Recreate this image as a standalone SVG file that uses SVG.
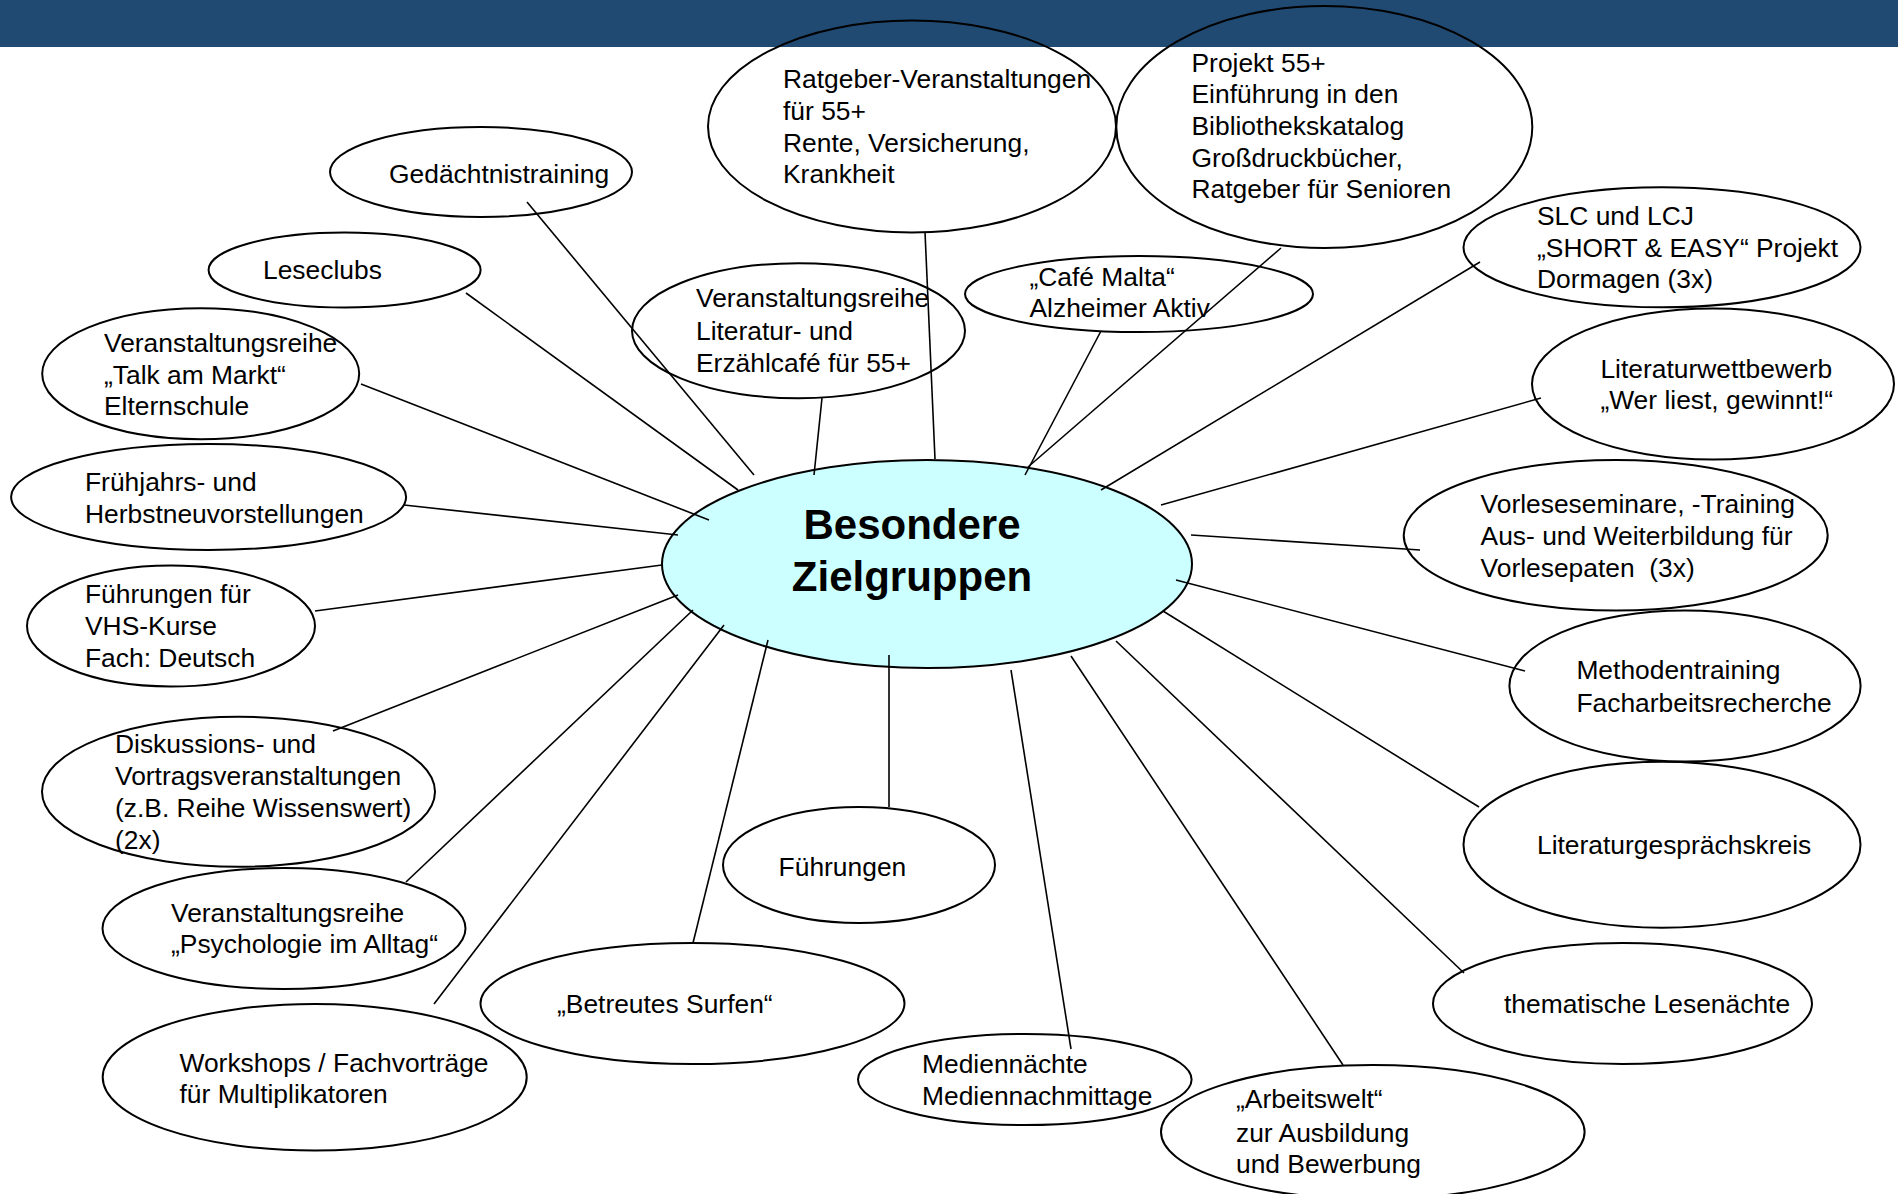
<svg xmlns="http://www.w3.org/2000/svg" width="1898" height="1194" viewBox="0 0 1898 1194">
<style>
.n{fill:none;stroke:#000;stroke-width:2}
.c{fill:#ccffff;stroke:#000;stroke-width:2}
.t{font-family:"Liberation Sans",Arial,sans-serif;font-size:26.4px;fill:#000}
.b{font-family:"Liberation Sans",Arial,sans-serif;font-size:42px;font-weight:bold;fill:#000;text-anchor:middle}
#connectors line{stroke:#000;stroke-width:1.6}
</style>
<rect x="0" y="0" width="1898" height="47" fill="#204a72"/>
<g id="center">
<ellipse class="c" cx="927" cy="564" rx="265" ry="104"/>
<text class="b" x="912" y="539">Besondere</text>
<text class="b" x="912" y="591">Zielgruppen</text>
</g>
<g id="connectors">
<line x1="527" y1="202" x2="754" y2="475"/>
<line x1="466" y1="293" x2="738" y2="490"/>
<line x1="361" y1="384" x2="709" y2="520"/>
<line x1="404" y1="505" x2="678" y2="535"/>
<line x1="315" y1="611" x2="662" y2="565"/>
<line x1="333" y1="731" x2="678" y2="595"/>
<line x1="406" y1="882" x2="693" y2="610"/>
<line x1="434" y1="1004" x2="724" y2="625"/>
<line x1="693" y1="943" x2="768" y2="640"/>
<line x1="889" y1="807" x2="889" y2="655"/>
<line x1="1071" y1="1049" x2="1011" y2="670"/>
<line x1="1343" y1="1065" x2="1071" y2="656"/>
<line x1="1464" y1="973" x2="1116" y2="641"/>
<line x1="1479" y1="807" x2="1163" y2="611"/>
<line x1="1525" y1="671" x2="1176" y2="580"/>
<line x1="1420" y1="550" x2="1191" y2="535"/>
<line x1="1541" y1="398" x2="1161" y2="505"/>
<line x1="1480" y1="262" x2="1101" y2="490"/>
<line x1="1281" y1="248" x2="1028" y2="467"/>
<line x1="1101" y1="331" x2="1025" y2="475"/>
<line x1="925" y1="232" x2="935" y2="459"/>
<line x1="822" y1="398" x2="814" y2="475"/>
</g>
<g id="n1"><ellipse class="n" cx="481" cy="172" rx="151" ry="45"/><text class="t" x="389" y="183">Gedächtnistraining</text></g>
<g id="n2"><ellipse class="n" cx="344.6" cy="270" rx="136" ry="37.5"/><text class="t" x="263" y="279">Leseclubs</text></g>
<g id="n3"><ellipse class="n" cx="200.7" cy="373.7" rx="158.5" ry="65.5"/><text class="t"><tspan x="104" y="352">Veranstaltungsreihe</tspan><tspan x="104" y="383.5">„Talk am Markt“</tspan><tspan x="104" y="415">Elternschule</tspan></text></g>
<g id="n4"><ellipse class="n" cx="208.6" cy="497" rx="197.5" ry="53"/><text class="t"><tspan x="85" y="491">Frühjahrs- und</tspan><tspan x="85" y="522.5">Herbstneuvorstellungen</tspan></text></g>
<g id="n5"><ellipse class="n" cx="171" cy="626" rx="144" ry="60.5"/><text class="t"><tspan x="85" y="603">Führungen für</tspan><tspan x="85" y="635">VHS-Kurse</tspan><tspan x="85" y="667">Fach: Deutsch</tspan></text></g>
<g id="n6"><ellipse class="n" cx="238.5" cy="791.7" rx="196.5" ry="75"/><text class="t"><tspan x="115" y="753">Diskussions- und</tspan><tspan x="115" y="785">Vortragsveranstaltungen</tspan><tspan x="115" y="817">(z.B. Reihe Wissenswert)</tspan><tspan x="115" y="848.5">(2x)</tspan></text></g>
<g id="n7"><ellipse class="n" cx="284" cy="928.5" rx="181.5" ry="60.5"/><text class="t"><tspan x="171" y="921.7">Veranstaltungsreihe</tspan><tspan x="171" y="953.3">„Psychologie im Alltag“</tspan></text></g>
<g id="n8"><ellipse class="n" cx="314.7" cy="1077.3" rx="212" ry="73.3"/><text class="t"><tspan x="179.5" y="1071.7">Workshops / Fachvorträge</tspan><tspan x="179.5" y="1103.3">für Multiplikatoren</tspan></text></g>
<g id="n9"><ellipse class="n" cx="692.5" cy="1003.5" rx="212" ry="60.5"/><text class="t" x="557" y="1013">„Betreutes Surfen“</text></g>
<g id="n10"><ellipse class="n" cx="859" cy="865" rx="136" ry="58"/><text class="t" x="778.6" y="876">Führungen</text></g>
<g id="n11"><ellipse class="n" cx="1024.8" cy="1079.5" rx="166.8" ry="45.5"/><text class="t"><tspan x="922" y="1073.3">Mediennächte</tspan><tspan x="922" y="1105">Mediennachmittage</tspan></text></g>
<g id="n12"><ellipse class="n" cx="1372.8" cy="1132" rx="211.8" ry="67"/><text class="t"><tspan x="1236" y="1108">„Arbeitswelt“</tspan><tspan x="1236" y="1141.7">zur Ausbildung</tspan><tspan x="1236" y="1173">und Bewerbung</tspan></text></g>
<g id="n13"><ellipse class="n" cx="1622.5" cy="1003.5" rx="189.5" ry="60.5"/><text class="t" x="1504" y="1013">thematische Lesenächte</text></g>
<g id="n14"><ellipse class="n" cx="1662" cy="844.7" rx="198.5" ry="83"/><text class="t" x="1537" y="854">Literaturgesprächskreis</text></g>
<g id="n15"><ellipse class="n" cx="1685" cy="686" rx="175.6" ry="75.5"/><text class="t"><tspan x="1576.4" y="679.3">Methodentraining</tspan><tspan x="1576.4" y="711.7">Facharbeitsrecherche</tspan></text></g>
<g id="n16"><ellipse class="n" cx="1615.7" cy="535.3" rx="212" ry="75.3"/><text class="t"><tspan x="1480.6" y="513.3">Vorleseseminare, -Training</tspan><tspan x="1480.6" y="545">Aus- und Weiterbildung für</tspan><tspan x="1480.6" y="576.7">Vorlesepaten&#160; (3x)</tspan></text></g>
<g id="n17"><ellipse class="n" cx="1713" cy="384" rx="181" ry="75.5"/><text class="t"><tspan x="1600.4" y="377.7">Literaturwettbewerb</tspan><tspan x="1600.4" y="409.3">„Wer liest, gewinnt!“</tspan></text></g>
<g id="n18"><ellipse class="n" cx="1662" cy="247.3" rx="198.5" ry="60"/><text class="t"><tspan x="1537" y="225">SLC und LCJ</tspan><tspan x="1537" y="256.7">„SHORT &amp; EASY“ Projekt</tspan><tspan x="1537" y="288.3">Dormagen (3x)</tspan></text></g>
<g id="n19"><ellipse class="n" cx="1324.3" cy="127" rx="208" ry="121"/><text class="t"><tspan x="1191.5" y="71.7">Projekt 55+</tspan><tspan x="1191.5" y="103.3">Einführung in den</tspan><tspan x="1191.5" y="135">Bibliothekskatalog</tspan><tspan x="1191.5" y="166.7">Großdruckbücher,</tspan><tspan x="1191.5" y="198.3">Ratgeber für Senioren</tspan></text></g>
<g id="n20"><ellipse class="n" cx="912" cy="126.5" rx="204" ry="106"/><text class="t"><tspan x="783" y="88.3">Ratgeber-Veranstaltungen</tspan><tspan x="783" y="120">für 55+</tspan><tspan x="783" y="151.7">Rente, Versicherung,</tspan><tspan x="783" y="183.3">Krankheit</tspan></text></g>
<g id="n21"><ellipse class="n" cx="798.5" cy="330.7" rx="166.5" ry="67.5"/><text class="t"><tspan x="696" y="307.3">Veranstaltungsreihe</tspan><tspan x="696" y="340">Literatur- und</tspan><tspan x="696" y="371.7">Erzählcafé für 55+</tspan></text></g>
<g id="n22"><ellipse class="n" cx="1139" cy="294" rx="174" ry="38"/><text class="t"><tspan x="1029.5" y="286">„Café Malta“</tspan><tspan x="1029.5" y="317.3">Alzheimer Aktiv</tspan></text></g>
</svg>
